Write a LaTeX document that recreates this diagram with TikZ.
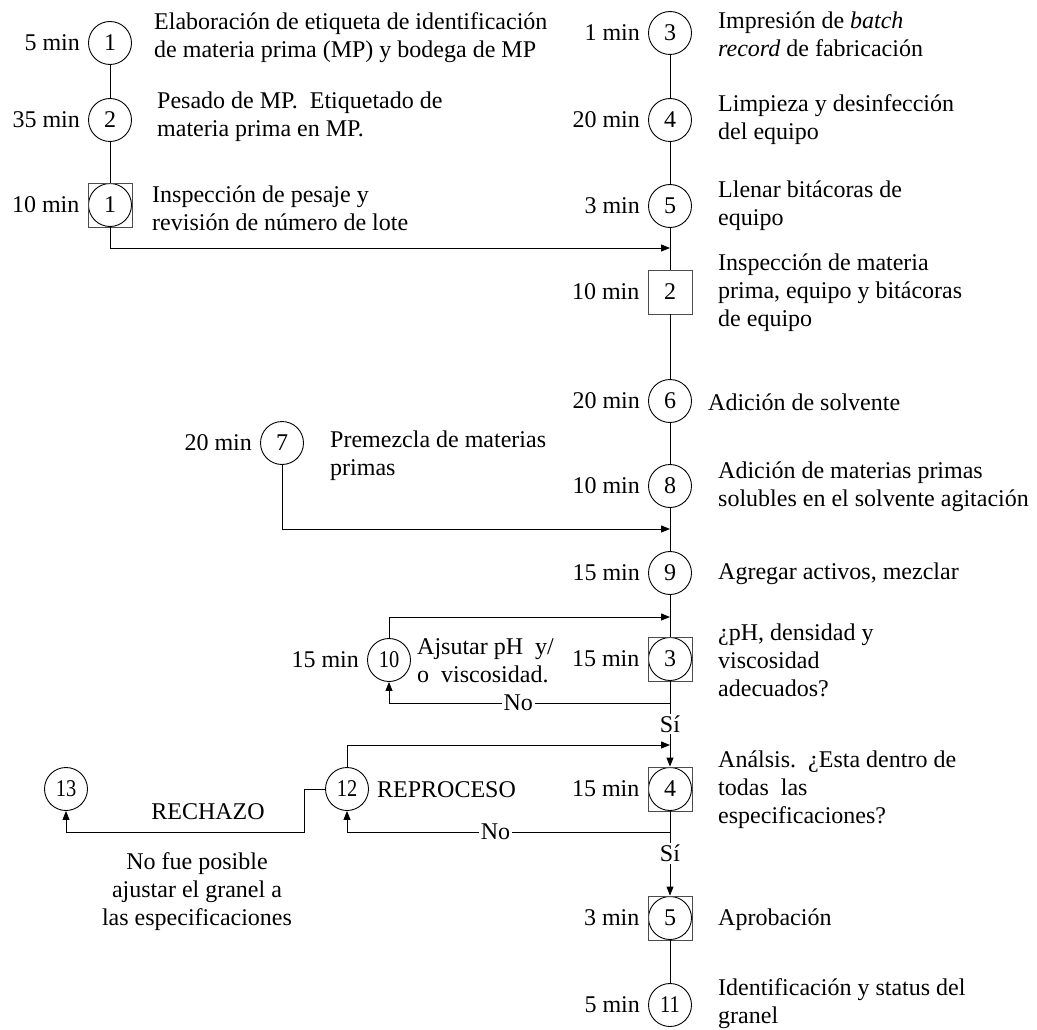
\documentclass[tikz,border=0pt]{standalone}
\usepackage{fontspec}
\usepackage{graphicx}
\setmainfont{Liberation Serif}
\usetikzlibrary{arrows.meta}
\newcommand\cnum[1]{\scalebox{0.85}[1]{#1}}
\begin{document}
\begin{tikzpicture}[x=1pt,y=-1pt,
  every node/.style={font=\fontsize{24}{28}\selectfont},
  circ/.style={circle,draw,line width=0.9pt,minimum size=43pt,inner sep=0pt},
  sq/.style={rectangle,draw=black!70,line width=0.9pt,minimum size=44pt,inner sep=0pt},
  qc/.style={sq,path picture={\draw[black,line width=0.9pt] (path picture bounding box.center) circle (21.5pt);}},
  tm/.style={label={[inner sep=0pt,label distance=8pt]left:#1}},
  txt/.style={anchor=west,align=left,inner sep=0pt},
  ln/.style={line width=0.9pt},
  arr/.style={ln,-{Triangle[length=9pt,width=7pt]}},
  lbl/.style={fill=white,inner sep=2pt}
]
\useasboundingbox (0,0) rectangle (1037,1030);
% nodes
\node[circ,tm=5 min] (c1) at (110,43) {1};
\node[circ,tm=35 min] (c2) at (110,120) {2};
\node[qc,tm=10 min] (i1) at (110,205) {1};
\node[circ,tm=1 min] (c3) at (670,33) {3};
\node[circ,tm=20 min] (c4) at (670,120) {4};
\node[circ,tm=3 min] (c5) at (670,206) {5};
\node[sq,tm=10 min] (i2) at (670,292) {2};
\node[circ,tm=20 min] (c6) at (670,401) {6};
\node[circ,tm=20 min] (c7) at (282,443) {7};
\node[circ,tm=10 min] (c8) at (670,486) {8};
\node[circ,tm=15 min] (c9) at (670,573) {9};
\node[circ,tm=15 min] (c10) at (389,660) {\cnum{10}};
\node[qc,tm=15 min] (i3) at (670,659) {3};
\node[qc,tm=15 min] (i4) at (670,789) {4};
\node[circ] (c12) at (347,789) {\cnum{12}};
\node[circ] (c13) at (66,789) {\cnum{13}};
\node[qc,tm=3 min] (i5) at (670,918) {5};
\node[circ,tm=5 min] (c11) at (670,1005) {\cnum{11}};
% texts
\node[txt] (t1) at (154,38) {Elaboración de etiqueta de identificación\\de materia prima (MP) y bodega de MP};
\node[txt] (t2) at (157,117) {Pesado de MP.\ \ Etiquetado de\\materia prima en MP.};
\node[txt] (t3) at (152,208) {Inspección de pesaje y\\revisión de número de lote};
\node[txt] (t4) at (718,34) {Impresión de \textit{batch}\\\textit{record} de fabricación};
\node[txt] (t5) at (718,120) {Limpieza y desinfección\\del equipo};
\node[txt] (t6) at (718,206) {Llenar bitácoras de\\equipo};
\node[txt] (t7) at (718,293) {Inspección de materia\\prima, equipo y bitácoras\\de equipo};
\node[txt] (t8) at (708,402) {Adición de solvente};
\node[txt] (t9) at (330,456) {Premezcla de materias\\primas};
\node[txt] (t10) at (718,487) {Adición de materias primas\\solubles en el solvente agitación};
\node[txt] (t11) at (718,574) {Agregar activos, mezclar};
\node[txt] (t12) at (417,661) {Ajsutar pH\ \ y/\\o\ \ viscosidad.};
\node[txt] (t13) at (718,660) {¿pH, densidad y\\viscosidad\\adecuados?};
\node[txt] (t14) at (718,790) {Análsis.\ \ ¿Esta dentro de\\todas\ \ las\\especificaciones?};
\node[txt] (t15) at (377,790) {REPROCESO};
\node[inner sep=0pt] (t16) at (208,812) {RECHAZO};
\node[align=center,inner sep=0pt] (t17) at (197,892) {No fue posible\\ajustar el granel a\\las especificaciones};
\node[txt] (t18) at (718,920) {Aprobación};
\node[txt] (t19) at (718,1004) {Identificación y status del\\granel};
% junctions
\coordinate (j1) at (670,248);
\coordinate (j2) at (670,529);
\coordinate (j3) at (670,617);
\coordinate (j4) at (670,745);
\coordinate (b1) at (670,703);
\coordinate (b2) at (670,832);
% connectors
\draw[ln] (c1) -- (c2);
\draw[ln] (c2) -- (i1);
\draw[arr] (i1.south) |- (j1);
\draw[ln] (c3) -- (c4);
\draw[ln] (c4) -- (c5);
\draw[ln] (c5) -- (i2);
\draw[ln] (i2) -- (c6);
\draw[ln] (c6) -- (c8);
\draw[ln] (c8) -- (c9);
\draw[ln] (c9) -- (i3);
\draw[arr] (c7.south) |- (j2);
\draw[arr] (c10.north) |- (j3);
\draw[ln] (i3.south) -- (b1);
\draw[arr] (b1) -- node[lbl,pos=0.54]{No} (b1 -| c10) -- (c10.south);
\draw[arr] (i3) -- node[lbl]{Sí} (i4);
\draw[arr] (c12.north) |- (j4);
\draw[ln] (i4.south) -- (b2);
\draw[arr] (b2) -- node[lbl,pos=0.54]{No} (b2 -| c12) -- (c12.south);
\draw[arr] (i4) -- node[lbl]{Sí} (i5);
\draw[arr] (c12.west) -- ++(-21,0) |- (c13 |- b2) -- (c13.south);
\draw[ln] (i5) -- (c11);
\end{tikzpicture}
\end{document}
